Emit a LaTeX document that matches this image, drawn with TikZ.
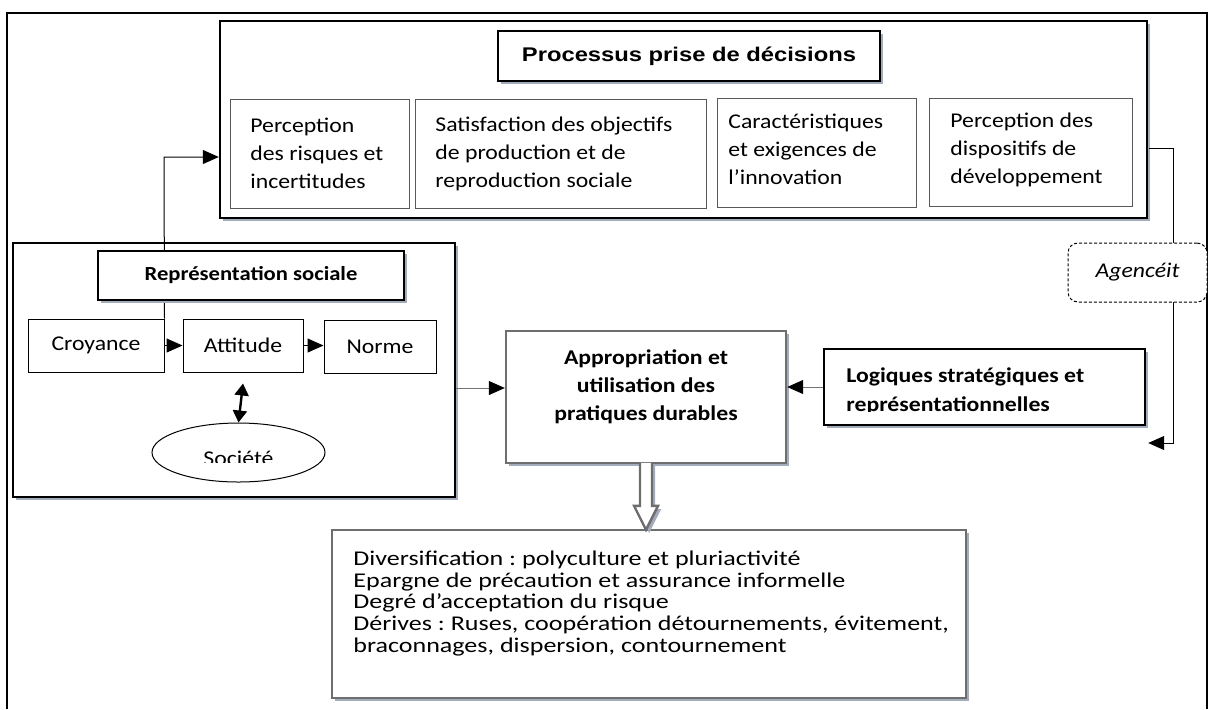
\documentclass[tikz,border=0pt]{standalone}
\usepackage{fontspec}
\setmainfont{Carlito}[FakeStretch=1.13]
\newfontfamily\widefont{Carlito}[FakeStretch=1.24]
\newfontfamily\arialfont{Liberation Sans}[FakeStretch=1.2]
\usetikzlibrary{arrows.meta,shapes.geometric,shadows}
\definecolor{shade}{RGB}{163,172,186}
\definecolor{boxgray}{RGB}{110,110,110}
\begin{document}
\frenchspacing
\begin{tikzpicture}[x=0.5pt,y=-0.5pt,
    font=\fontsize{10.5}{14}\selectfont,
    shd/.style={drop shadow={shadow xshift=1.6pt,shadow yshift=-1.6pt,fill=shade,opacity=1}},
    heavy/.style={draw,line width=1.2pt,fill=white,shd},
    grayheavy/.style={draw=boxgray,line width=1.2pt,fill=white,shd},
    cellbox/.style={draw=black!65,line width=0.5pt,inner sep=0pt},
    celltxt/.style={anchor=north west,align=left,inner sep=0pt,execute at begin node=\strut},
    small/.style={draw,line width=0.5pt,minimum height=26.5pt,inner sep=0pt},
    arr/.style={-{Triangle[length=8pt,width=7pt,color=black]},line width=0.5pt},
    boldtxt/.style={inner sep=0pt,execute at begin node=\strut,font=\fontsize{10.5}{14}\selectfont\bfseries}
  ]
  \useasboundingbox (0,0) rectangle (1208,709);
  \draw[line width=1pt] (7,709) -- (7,13) -- (1207,13) -- (1207,709);

  \node[heavy,minimum width=463.5pt,minimum height=98.5pt] (proc) at (683.5,119.5) {};
  \node[heavy,minimum width=191pt,minimum height=25pt,
        font={\fontsize{9.9}{14}\selectfont\arialfont\bfseries}] (proctitle) at (689,56) {Processus prise de décisions};
  \node[cellbox,minimum width=89.5pt,minimum height=54.5pt] (risk) at (319.5,153.5) {};
  \node[cellbox,minimum width=145.5pt,minimum height=54.5pt] (goal) at (560.5,153.5) {};
  \node[cellbox,minimum width=99.5pt,minimum height=54.5pt] (innov) at (816.5,152.5) {};
  \node[cellbox,minimum width=101.5pt,minimum height=54pt] (devt) at (1030.5,152) {};
  \node[celltxt] (risktxt) at (250,118) {Perception\\des risques et\\incertitudes};
  \node[celltxt] (goaltxt) at (435,117) {Satisfaction des objectifs\\de production et de\\reproduction sociale};
  \node[celltxt] (innovtxt) at (728,114) {Caractéristiques\\et exigences de\\l’innovation};
  \node[celltxt] (devttxt) at (950,113) {Perception des\\dispositifs de\\développement};

  \node[heavy,minimum width=221pt,minimum height=127pt] (rep) at (234,370) {};
  \node[small,minimum width=68pt] (croy) at (96,345.5) {Croyance};
  \coordinate (bend) at (164,157);
  \draw[arr] (croy.north east) -- (bend) -- (bend -| proc.west);
  \node[heavy,minimum width=153pt,minimum height=24.5pt,
        font=\fontsize{10}{14}\selectfont\bfseries] (reptitle) at (251,275.5) {Représentation sociale};
  \node[small,minimum width=60pt] (att) at (243,345.5) {Attitude};
  \node[small,minimum width=56pt] (norm) at (380,346.5) {Norme};
  \draw[arr] (croy) -- (att);
  \draw[arr] (att.east) -- (att.east -| norm.west);
  \node[draw,ellipse,line width=0.5pt,minimum width=86.5pt,minimum height=29.5pt,inner sep=0pt] (soc) at (238.5,452.5) {};
  \begin{scope}
    \clip (150,420) rectangle (330,462);
    \node (soctxt) at (238.5,458.5) {Société};
  \end{scope}
  \draw[{Triangle[length=6pt,width=7pt]}-{Triangle[length=6pt,width=7pt]},line width=1.2pt]
    ([yshift=-5.5pt]att.south) -- (soc.north);

  \node[grayheavy,minimum width=140pt,minimum height=66pt] (appro) at (646,397) {};
  \node[boldtxt,anchor=north,align=center] (approtxt) at (646,349.5) {Appropriation et\\utilisation des\\pratiques durables};

  \node[heavy,minimum width=160.5pt,minimum height=38pt] (logiq) at (984.5,387) {};
  \begin{scope}
    \clip (830,352) rectangle (1140,411);
    \node[boldtxt,anchor=north west,align=left,font=\fontsize{10.5}{14.5}\selectfont\bfseries] (logiqtxt) at (846,367.5)
      {Logiques stratégiques et\\représentationnelles};
  \end{scope}

  \draw[arr,draw=black!55] (rep.east |- appro) ++(0,-9) coordinate (repout) -- (repout -| appro.west);
  \draw[arr,draw=black!55] (logiq.west) -- (appro.east |- logiq.west);

  \coordinate (out) at (1149,148);
  \coordinate (turn) at (1173,443);
  \draw[arr] (out) -| (turn) -- (turn -| proc.east);
  \node[draw,dash pattern=on 1.5pt off 1pt,rounded corners=5pt,fill=white,line width=0.5pt,
        minimum width=69.5pt,minimum height=29.5pt,font=\fontsize{10.5}{14}\selectfont\itshape] (agen) at (1137.5,272.5) {Agencéit};

  \node[grayheavy,minimum width=317pt,minimum height=84pt] (res) at (649,614) {};
  \node[celltxt,font=\fontsize{10.5}{10.85}\selectfont\widefont] (restxt) at (353,550.5)
    {Diversification : polyculture et pluriactivité\\
     Epargne de précaution et assurance informelle\\
     Degré d’acceptation du risque\\
     Dérives : Ruses, coopération détournements, évitement,\\
     braconnages, dispersion, contournement};

  \draw[grayheavy] ([xshift=-3pt,yshift=0.7pt]appro.south) -- ++(0,43) -- ++(-6,0) -- ++(12,24)
    -- ++(12,-24) -- ++(-6,0) -- ++(0,-43);
\end{tikzpicture}
\end{document}
